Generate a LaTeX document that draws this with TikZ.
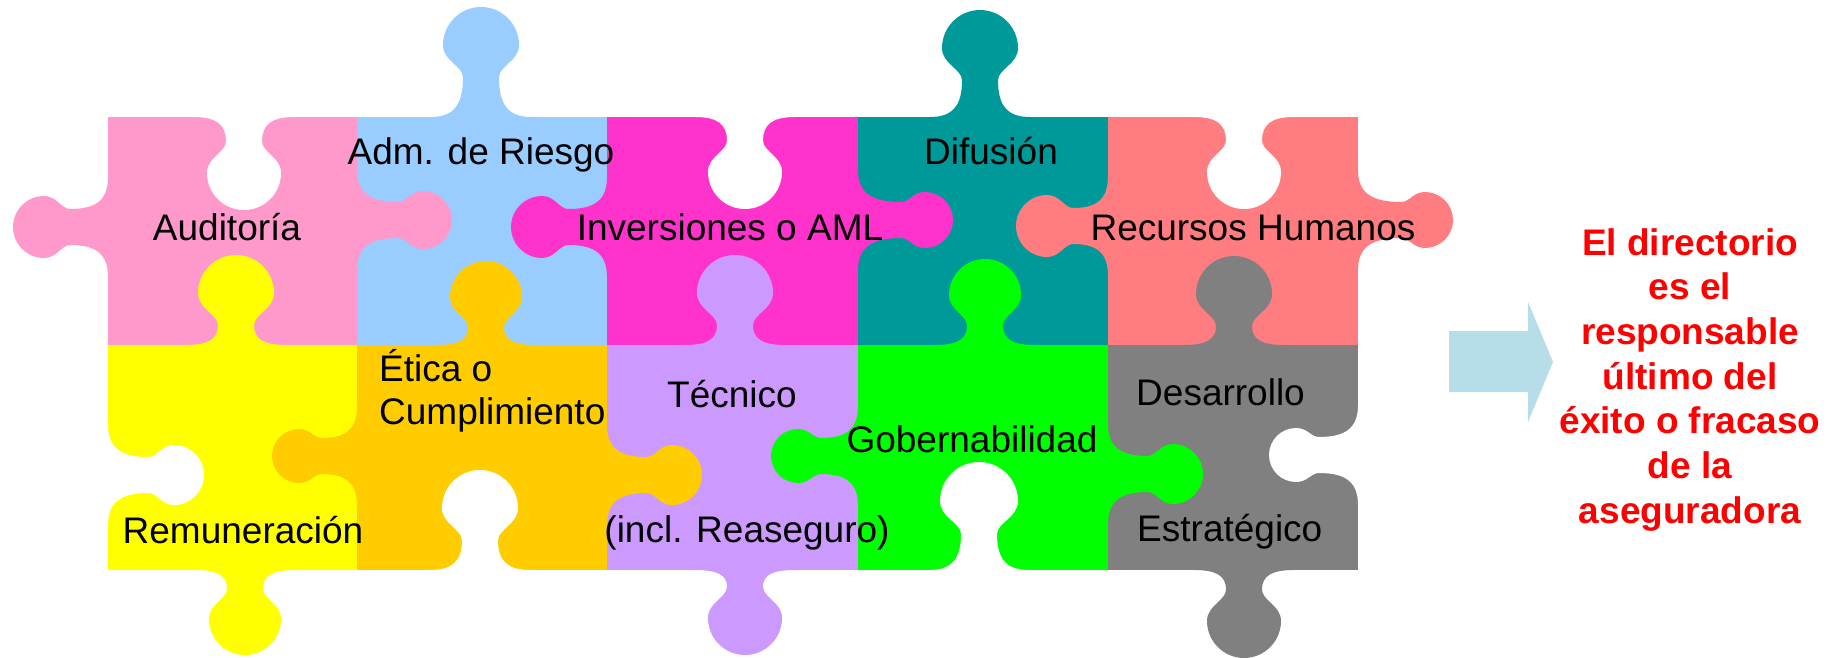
\documentclass[tikz,border=0pt]{standalone}
\usepackage{fontspec}
\setmainfont{Liberation Sans}
\definecolor{cAud}{HTML}{FF99CC}
\definecolor{cAdm}{HTML}{99CCFF}
\definecolor{cInv}{HTML}{FF33CC}
\definecolor{cDif}{HTML}{009999}
\definecolor{cRRH}{HTML}{FF7C80}
\definecolor{cRem}{HTML}{FFFF00}
\definecolor{cEti}{HTML}{FFCC00}
\definecolor{cTec}{HTML}{CC99FF}
\definecolor{cGob}{HTML}{00FF00}
\definecolor{cDes}{HTML}{808080}
\definecolor{cArrow}{HTML}{B7DEE8}
\definecolor{cRed}{HTML}{FF0000}
\tikzset{
  lbl/.style={font=\fontsize{37}{44}\selectfont, inner sep=0pt, anchor=base, text=black},
  lblw/.style={lbl, anchor=base west},
  redlbl/.style={font=\fontsize{37}{44}\selectfont\bfseries, inner sep=0pt, anchor=base, text=cRed},
}
% jigsaw tab: colour, x, y, rotation, depth, knob half-width, neck half-width
\newcommand\jtab[7]{%
  \begin{scope}[shift={(#2,#3)}, rotate=#4]
    \pgfmathsetmacro\jd{#5}%
    \pgfmathsetmacro\jk{#6}%
    \pgfmathsetmacro\jn{#7}%
    \pgfmathsetmacro\js{#7+32}%
    \pgfmathsetmacro\ja{max(#5-1.85*#6,16)}%
    \pgfmathsetmacro\jc{#5-#6}%
    \pgfmathsetmacro\jca{\ja+0.35*(\jc-\ja)}%
    \pgfmathsetmacro\jcb{\jc-0.5*(\jc-\ja)}%
    \pgfmathsetmacro\jsa{0.55*\js}%
    \pgfmathsetmacro\jnb{0.3*\ja}%
    \pgfmathsetmacro\jkt{\jc+0.55*#6}%
    \pgfmathsetmacro\jkk{0.55*#6}%
    \fill[#1] (-\js,-3) -- (-\js,0) .. controls (-\jsa,0) and (-\jn,\jnb) .. (-\jn,\ja)
      .. controls (-\jn,\jca) and (-\jk,\jcb) .. (-\jk,\jc)
      .. controls (-\jk,\jkt) and (-\jkk,\jd) .. (0,\jd)
      .. controls (\jkk,\jd) and (\jk,\jkt) .. (\jk,\jc)
      .. controls (\jk,\jcb) and (\jn,\jca) .. (\jn,\ja)
      .. controls (\jn,\jnb) and (\jsa,0) .. (\js,0) -- (\js,-3) -- cycle;
  \end{scope}}
\begin{document}
\begin{tikzpicture}[x=1pt,y=-1pt]
\useasboundingbox (0,0) rectangle (1835,658);
% piece bodies
\fill[cAud] (108,117) rectangle (357.5,345.5);
\fill[cAdm] (357,117) rectangle (607.5,345.5);
\fill[cInv] (607,117) rectangle (858.5,345.5);
\fill[cDif] (858,117) rectangle (1108.5,345.5);
\fill[cRRH] (1108,117) rectangle (1358,345.5);
\fill[cRem] (108,345) rectangle (357.5,570);
\fill[cEti] (357,345) rectangle (607.5,570);
\fill[cTec] (607,345) rectangle (858.5,570);
\fill[cGob] (858,345) rectangle (1108.5,570);
\fill[cDes] (1108,345) rectangle (1358,570);
% tabs: top outer edge
\jtab{cAdm}{481}{117}{180}{110}{38}{18}
\jtab{cDif}{980}{117}{180}{107}{38}{18}
% middle edge (all up)
\jtab{cRem}{236}{345}{180}{90}{38}{18}
\jtab{cEti}{486}{345}{180}{84}{36}{18}
\jtab{cTec}{735}{345}{180}{90}{38}{18}
\jtab{cGob}{985}{345}{180}{86}{36}{18}
\jtab{cDes}{1234}{345}{180}{89}{38}{18}
% bottom outer edge
\jtab{cRem}{245}{570}{0}{85}{36}{18}
\jtab{cTec}{745}{570}{0}{85}{37}{18}
\jtab{cDes}{1244}{570}{0}{88}{37}{18}
% vertical edges
\jtab{cAud}{108}{227}{-90}{95}{31}{18}
\jtab{cAud}{357}{220}{90}{95}{29}{18}
\jtab{cEti}{357}{456}{-90}{85}{27}{18}
\jtab{cInv}{607}{227}{-90}{96}{31}{18}
\jtab{cEti}{607}{475}{90}{95}{30}{18}
\jtab{cInv}{858}{220}{90}{95}{28}{18}
\jtab{cGob}{858}{456}{-90}{87}{27}{18}
\jtab{cRRH}{1108}{226}{-90}{92}{31}{18}
\jtab{cGob}{1108}{474}{90}{95}{30}{18}
\jtab{cRRH}{1358}{220}{90}{95}{28}{18}
% outer notches (white)
\jtab{white}{244}{117}{0}{93}{37}{18}
\jtab{white}{745}{117}{0}{92}{37}{18}
\jtab{white}{1244}{117}{0}{92}{37}{18}
\jtab{white}{480}{570}{180}{100}{38}{18}
\jtab{white}{979}{570}{180}{108}{39}{18}
\jtab{white}{108}{475}{90}{96}{30}{18}
\jtab{white}{1358}{455}{-90}{89}{27}{18}
% arrow
\fill[cArrow] (1449,331) -- (1528,331) -- (1528,302) -- (1553,362) -- (1528,422) -- (1528,392) -- (1449,392) -- cycle;
% labels
\node[lbl] (aud) at (227,240) {Auditoría};
\node[lbl] (adm) at (481,164) {Adm. de Riesgo};
\node[lbl] (inv) at (730,240) {Inversiones o AML};
\node[lbl] (dif) at (991,164) {Difusión};
\node[lbl] (rrh) at (1253,240) {Recursos Humanos};
\node[lblw] (eti1) at (379,381) {Ética o};
\node[lblw] (eti2) at (379,424) {Cumplimiento};
\node[lbl] (tec1) at (732,407) {Técnico};
\node[lbl] (tec2) at (747,542) {(incl. Reaseguro)};
\node[lbl] (gob) at (972,452) {Gobernabilidad};
\node[lblw] (des1) at (1136,405) {Desarrollo};
\node[lblw] (des2) at (1137,541) {Estratégico};
\node[lbl] (rem) at (243,543) {Remuneración};
\foreach [count=\i] \txt/\yy in {El directorio/255,es el/299.7,responsable/344.4,último del/389.1,éxito o fracaso/433.8,de la/478.5,aseguradora/523.2}
  \node[redlbl] (red\i) at (1690,\yy) {\txt};
\end{tikzpicture}
\end{document}
